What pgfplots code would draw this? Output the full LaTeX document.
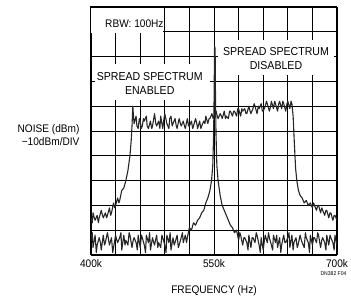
\documentclass[border=0pt]{standalone}
\usepackage{pgfplots}
\pgfplotsset{compat=1.18}
\usepackage{fontspec}
\setmainfont{Liberation Sans}[FakeStretch=0.92]
\begin{document}
\begin{tikzpicture}
\useasboundingbox (-91pt,-44pt) rectangle (260pt,255pt);
\begin{axis}[
 at={(0,0)}, anchor=south west,
 width=246pt, height=248pt, scale only axis,
 xmin=400, xmax=700, ymin=-100, ymax=0,
 xtick={400,430,460,490,520,550,580,610,640,670,700},
 xticklabels={400k,,,,,550k,,,,,700k},
 ytick={-100,-90,-80,-70,-60,-50,-40,-30,-20,-10,0},
 yticklabels={,,,,,,,,,,},
 grid=major, major grid style={black, line width=0.8pt},
 axis line style={black, line width=1pt},
 tick style={draw=none},
 xticklabel style={font=\fontsize{11}{13}\selectfont, yshift=-1pt},
]
\fill[white] (axis cs:400.5,-0.4) rectangle (axis cs:487.8,-10.5);
\fill[white] (axis cs:404.9,-22.8) rectangle (axis cs:545.1,-37.5);
\fill[white] (axis cs:555,-13.5) rectangle (axis cs:696,-27.5);
% spread spectrum enabled
\addplot[black!85, line width=1.1pt, line join=round] coordinates {
(400,-85) (401.5,-87) (402.5,-83) (404,-85) (405,-86) (407.5,-84) (409,-87) (410,-85) (412.5,-82) (414,-84) (415,-85) (417.5,-83)
(419,-85) (420,-84) (422.5,-81) (424,-84) (425,-83) (427.5,-79) (429,-81) (430,-80) (432.5,-77) (434,-79) (435,-78) (437.5,-74)
(440,-73) (442.5,-70) (445,-66) (447.5,-60) (449,-54) (450,-48) (451,-40) (452.5,-47)
(455,-44) (456,-48) (457.5,-49) (459,-45) (460,-46) (461,-49) (462.5,-48) (464,-45) (465,-46) (467.5,-44) (468.5,-48) (470,-49) (472.5,-46)
(474,-49) (475,-48) (477.5,-43) (479,-47) (480,-48) (482.5,-46) (484,-49) (485,-44) (487.5,-49) (489,-45) (490,-43) (492.5,-47)
(495,-49) (496,-45) (497.5,-44) (499,-48) (500,-47) (502.5,-45) (504,-48) (505,-49) (507.5,-45) (509,-47) (510,-48) (512.5,-46)
(514,-48) (515,-49) (517.5,-45) (519,-48) (520,-48) (522.5,-46) (524,-49) (525,-48) (527.5,-45) (529,-47) (530,-49) (532.5,-46)
(534,-49) (535,-48) (537.5,-46) (539,-47) (540,-44) (542.5,-47) (544,-45) (545,-45) (547.5,-43) (549,-45) (550,-44) (552.5,-42)
(554,-44) (555,-45) (557.5,-43) (559,-44) (560,-45) (562.5,-42) (564,-45) (565,-44) (567.5,-45) (569,-42) (570,-42) (572.5,-44)
(574,-42) (575,-42) (577.5,-44) (579,-41) (580,-41) (582.5,-44) (584,-41) (585,-42) (587.5,-41) (589,-43) (590,-43) (592.5,-40)
(594,-42) (595,-43) (597.5,-41) (599,-39) (600,-40) (602.5,-43) (604,-40) (605,-41) (607.5,-39) (609,-42) (610,-42) (612.5,-40)
(614,-38) (615,-39) (617.5,-42) (619,-40) (620,-38) (622.5,-41) (624,-38) (625,-39) (627.5,-42) (629,-39) (630,-38) (632.5,-41)
(634,-38) (635,-39) (637.5,-42) (639,-39) (640,-38) (642.5,-41) (644,-38) (645,-39) (646.5,-44) (648,-55) (649.5,-65)
(651,-70) (653,-74) (655,-76) (657.5,-77) (660,-79) (662.5,-78) (665,-80) (667.5,-79)
(670,-81) (671.5,-79) (672.5,-80) (675,-82) (676.5,-80) (677.5,-80) (680,-83) (681.5,-81) (682.5,-82) (685,-84) (686.5,-82) (687.5,-82)
(690,-85) (691.5,-83) (692.5,-83) (695,-86) (696.5,-84) (697.5,-84) (700,-86)
};
% spread spectrum disabled
\addplot[black!85, line width=1.1pt, line join=round] coordinates {
(400,-94) (401.5,-91) (402.5,-97) (405,-92) (406.5,-99) (407.5,-96) (410,-93) (411.5,-95) (412.5,-98) (415,-92) (416.5,-96) (417.5,-95)
(420,-91) (421.5,-94) (422.5,-96) (425,-93) (426.5,-99) (427.5,-97) (430,-92) (431.5,-94) (432.5,-95) (435,-93) (436.5,-91) (437.5,-98)
(440,-92) (441.5,-96) (442.5,-94) (445,-96) (446.5,-91) (447.5,-92) (450,-97) (451.5,-94) (452.5,-93) (455,-95) (456.5,-98) (457.5,-92)
(460,-97) (461.5,-92) (462.5,-93) (465,-96) (466.5,-99) (467.5,-92) (470,-95) (471.5,-91) (472.5,-98) (475,-93) (476.5,-95) (477.5,-96)
(480,-92) (481.5,-97) (482.5,-95) (485,-97) (486.5,-92) (487.5,-93) (490,-96) (491.5,-99) (492.5,-92) (495,-95) (496.5,-91) (497.5,-98)
(500,-93) (501.5,-96) (502.5,-95) (505,-92) (506.5,-97) (507.5,-96) (510,-93) (511.5,-91) (512.5,-95) (515,-92) (516.5,-95) (517.5,-93)
(520,-89) (522.5,-90) (525,-87) (527.5,-88) (530,-86) (532.5,-85) (535,-83) (537.5,-82)
(540,-79) (542.5,-77) (545,-74) (547,-70) (548.5,-64) (549.5,-52) (550.2,-35) (550.6,-17) (551,-16) (551.4,-17)
(551.8,-35) (552.5,-52) (553.5,-64) (555,-70) (557.5,-76) (560,-80) (562.5,-82) (565,-84)
(567.5,-86) (570,-88) (572.5,-89) (575,-91) (577.5,-90) (580,-94) (581.5,-91) (582.5,-92) (585,-96) (586.5,-93)
(587.5,-93) (590,-95) (591.5,-98) (592.5,-92) (595,-97) (596.5,-93) (597.5,-93) (600,-95) (601.5,-91) (602.5,-92) (605,-96) (606.5,-99)
(607.5,-93) (610,-98) (611.5,-94) (612.5,-92) (615,-95) (616.5,-91) (617.5,-93) (620,-96) (621.5,-98) (622.5,-92) (625,-95) (626.5,-92)
(627.5,-97) (630,-93) (631.5,-99) (632.5,-96) (635,-92) (636.5,-95) (637.5,-95) (640,-93) (641.5,-91) (642.5,-97) (645,-92) (646.5,-98)
(647.5,-95) (650,-93) (651.5,-97) (652.5,-96) (655,-92) (656.5,-94) (657.5,-95) (660,-97) (661.5,-91) (662.5,-93) (665,-95) (666.5,-99)
(667.5,-92) (670,-96) (671.5,-93) (672.5,-93) (675,-95) (676.5,-91) (677.5,-92) (680,-97) (681.5,-94) (682.5,-93) (685,-95) (686.5,-98)
(687.5,-92) (690,-96) (691.5,-92) (692.5,-93) (695,-95) (696.5,-98) (697.5,-92) (700,-96)
};
\end{axis}
\node[anchor=west, font=\fontsize{11}{13}\selectfont] at (10.7pt,231pt) {RBW: 100Hz};
\node[align=center, font=\fontsize{11.5}{13.7}\selectfont] at (58.7pt,171.6pt) {SPREAD SPECTRUM\\ENABLED};
\node[align=center, font=\fontsize{11.5}{13.7}\selectfont] at (185pt,196.5pt) {SPREAD SPECTRUM\\DISABLED};
\node[anchor=east, align=right, font=\fontsize{11}{13}\selectfont] at (-8pt,120pt) {NOISE (dBm)\\−10dBm/DIV};
\node[font=\fontsize{11}{13}\selectfont] at (123pt,-36pt) {FREQUENCY (Hz)};
\node[anchor=east, font=\fontsize{5.5}{6}\selectfont] at (259pt,-19pt) {DN382 F04};
\end{tikzpicture}
\end{document}
